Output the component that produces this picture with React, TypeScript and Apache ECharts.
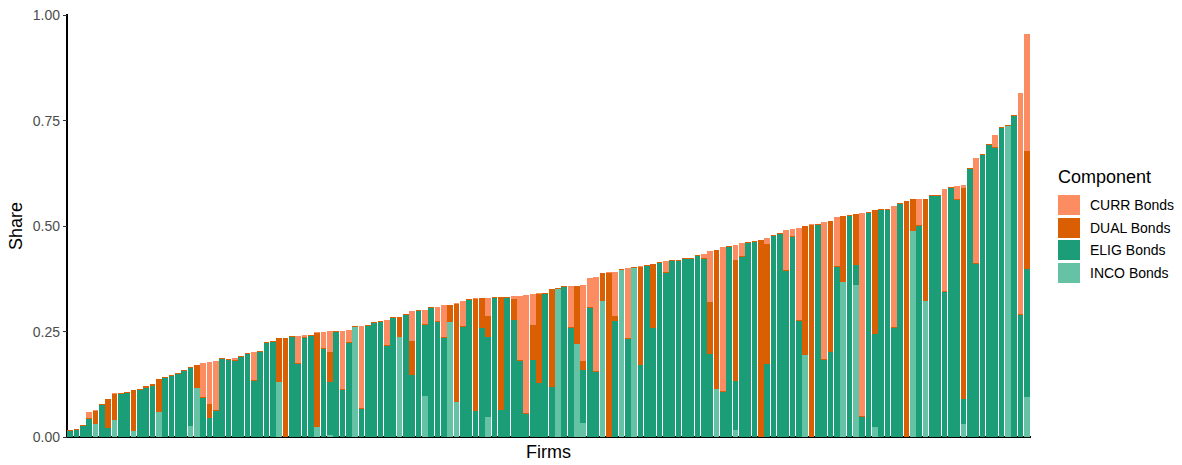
import React, { useEffect, useRef } from 'react';
import * as echarts from 'echarts';

// Share of each bond component per firm (firms sorted by total share)
const incoBonds = [
  0, 0, 0, 0, 0.031, 0, 0, 0.040, 0, 0,
  0.014, 0, 0, 0, 0.059, 0, 0, 0, 0, 0.026,
  0.116, 0, 0, 0, 0, 0, 0, 0, 0, 0,
  0, 0, 0, 0.130, 0, 0, 0, 0, 0, 0.024,
  0, 0.005, 0, 0, 0, 0.261, 0, 0, 0, 0,
  0, 0, 0.237, 0, 0, 0, 0.096, 0, 0, 0,
  0.273, 0.083, 0, 0, 0, 0, 0.047, 0, 0, 0,
  0, 0, 0, 0, 0, 0, 0, 0.351, 0, 0,
  0.220, 0.033, 0, 0, 0.322, 0, 0, 0.396, 0, 0.400,
  0, 0, 0, 0, 0, 0, 0, 0, 0, 0,
  0, 0, 0.114, 0, 0, 0.017, 0, 0, 0, 0,
  0, 0, 0, 0, 0, 0, 0.194, 0, 0, 0,
  0, 0, 0.367, 0, 0.360, 0, 0, 0.024, 0, 0,
  0, 0, 0, 0.488, 0, 0.322, 0, 0, 0, 0,
  0, 0.031, 0, 0, 0, 0, 0, 0, 0.737, 0,
  0, 0.095,
];

const eligBonds = [
  0.014, 0.017, 0.026, 0.043, 0, 0.075, 0.022, 0, 0.102, 0.104,
  0, 0.111, 0.117, 0.122, 0, 0.140, 0.145, 0.149, 0.156, 0.138,
  0, 0.093, 0.046, 0.062, 0.185, 0.183, 0.180, 0.190, 0.197, 0.132,
  0.202, 0.222, 0.226, 0, 0, 0.236, 0.174, 0.235, 0.239, 0,
  0.208, 0.126, 0.249, 0.112, 0.223, 0, 0.066, 0.263, 0.269, 0.273,
  0.216, 0.282, 0, 0.289, 0.147, 0.299, 0.169, 0.306, 0.273, 0.235,
  0, 0, 0.261, 0.325, 0.062, 0.258, 0.190, 0.329, 0.064, 0.329,
  0.277, 0.180, 0.055, 0.182, 0.128, 0.339, 0.118, 0, 0.355, 0.258,
  0, 0.126, 0.306, 0.154, 0, 0, 0.275, 0, 0.232, 0,
  0.171, 0.405, 0.258, 0.412, 0.389, 0.417, 0.417, 0.422, 0.422, 0.429,
  0.422, 0.197, 0, 0.107, 0.450, 0.115, 0.427, 0.460, 0.462, 0,
  0.174, 0.476, 0.481, 0.393, 0.474, 0.275, 0, 0, 0.502, 0.182,
  0.202, 0.403, 0, 0.524, 0.047, 0.047, 0.531, 0.221, 0.538, 0.538,
  0.258, 0.552, 0, 0, 0.500, 0, 0.571, 0.571, 0.344, 0.590,
  0.562, 0.059, 0.635, 0.410, 0.668, 0.692, 0.685, 0.732, 0, 0.761,
  0.289, 0.303,
];

const dualBonds = [
  0.003, 0.0025, 0.0025, 0.0025, 0.031, 0.003, 0.068, 0.062, 0.0025, 0.0025,
  0.097, 0.003, 0.003, 0.003, 0.078, 0.0025, 0.0025, 0.003, 0.0025, 0.0025,
  0.054, 0.0025, 0.032, 0.0025, 0.0025, 0.003, 0.0025, 0.0025, 0.003, 0.0025,
  0.0025, 0.0025, 0.0025, 0.104, 0.235, 0.003, 0.0025, 0.0025, 0.0025, 0.222,
  0.003, 0.070, 0.0025, 0.0025, 0.0025, 0.0025, 0.0025, 0.0025, 0.0025, 0.0025,
  0.0025, 0.0025, 0.047, 0.0025, 0.081, 0.0025, 0.0025, 0.0025, 0.0025, 0.0025,
  0.040, 0.232, 0.0025, 0.0025, 0.265, 0.071, 0.050, 0.0025, 0.268, 0.0025,
  0.051, 0.0025, 0.0025, 0.083, 0.211, 0.0025, 0.232, 0.0025, 0.0025, 0.0025,
  0.137, 0.021, 0.0025, 0.0025, 0.066, 0.389, 0.012, 0.0025, 0.0025, 0.0025,
  0.232, 0.0025, 0.152, 0.0025, 0.0025, 0.0025, 0.0025, 0.0025, 0.0025, 0.0025,
  0.0025, 0.122, 0.329, 0.0025, 0.0025, 0.288, 0.0025, 0.0025, 0.0025, 0.467,
  0.284, 0.0025, 0.0025, 0.0025, 0.0025, 0.0025, 0.306, 0.502, 0.0025, 0.0025,
  0.310, 0.0025, 0.156, 0.0025, 0.121, 0.0025, 0.0025, 0.293, 0.0025, 0.0025,
  0.0025, 0.0025, 0.559, 0.076, 0.0025, 0.242, 0.0025, 0.0025, 0.0025, 0.0025,
  0.0025, 0.500, 0.0025, 0.0025, 0.0025, 0.0025, 0.0025, 0.0025, 0.0025, 0.0025,
  0.0025, 0.280,
];

const currBonds = [
  0, 0, 0, 0.014, 0.0025, 0, 0, 0.0025, 0, 0,
  0, 0, 0, 0, 0, 0, 0, 0, 0, 0,
  0, 0.080, 0.100, 0.116, 0, 0, 0.005, 0, 0, 0.067,
  0, 0, 0, 0, 0, 0, 0.064, 0.005, 0, 0.003,
  0.038, 0.050, 0, 0.137, 0.028, 0, 0.194, 0, 0, 0,
  0.059, 0, 0, 0, 0.071, 0, 0.034, 0, 0.033, 0.076,
  0, 0.0025, 0.059, 0, 0.0025, 0, 0.043, 0, 0, 0,
  0.005, 0.152, 0.280, 0.074, 0.0025, 0, 0, 0, 0, 0.097,
  0, 0.180, 0.069, 0.223, 0, 0.0025, 0.104, 0, 0.166, 0,
  0.0025, 0, 0, 0, 0.026, 0, 0, 0, 0, 0,
  0.009, 0.121, 0, 0.341, 0, 0.036, 0.031, 0, 0, 0,
  0.014, 0, 0, 0.095, 0.017, 0.218, 0, 0.0025, 0, 0.325,
  0, 0.116, 0, 0, 0, 0.481, 0, 0, 0, 0,
  0.287, 0, 0, 0, 0.062, 0, 0, 0, 0.242, 0,
  0.031, 0.007, 0, 0.249, 0, 0, 0.028, 0, 0, 0,
  0.524, 0.277,
];

const firms = incoBonds.map((_, i) => `Firm ${i + 1}`);
const componentNames = ['CURR Bonds', 'DUAL Bonds', 'ELIG Bonds', 'INCO Bonds'];
const componentColors = ['#FC8D62', '#D95F02', '#1B9E77', '#66C2A5'];
const yTickValues = [0, 0.25, 0.5, 0.75, 1.0];

const FONT = '"Liberation Sans", Arial, Helvetica, sans-serif';

export default function App() {
  const ref = useRef<HTMLDivElement | null>(null);

  useEffect(() => {
    if (!ref.current) return;
    const chart = echarts.init(ref.current, null, { renderer: 'svg' });
    const seriesData = [
      { name: 'INCO Bonds', data: incoBonds, color: componentColors[3] },
      { name: 'ELIG Bonds', data: eligBonds, color: componentColors[2] },
      { name: 'DUAL Bonds', data: dualBonds, color: componentColors[1] },
      { name: 'CURR Bonds', data: currBonds, color: componentColors[0] },
    ];
    chart.setOption({
      animation: false,
      backgroundColor: '#ffffff',
      grid: { left: 67, right: 152, top: 15, bottom: 28, containLabel: false },
      xAxis: {
        type: 'category',
        data: firms,
        axisLine: { show: true, onZero: false, lineStyle: { color: '#000000', width: 1.6 } },
        axisTick: { show: false },
        axisLabel: { show: false },
        splitLine: { show: false },
      },
      yAxis: {
        type: 'value',
        min: yTickValues[0],
        max: yTickValues[yTickValues.length - 1],
        interval: 0.25,
        axisLine: { show: true, lineStyle: { color: '#000000', width: 1.6 } },
        axisTick: { show: true, length: 4, lineStyle: { color: '#333333', width: 1.2 } },
        axisLabel: {
          formatter: (v: number) => v.toFixed(2),
          color: '#4d4d4d',
          fontSize: 14,
          margin: 7,
          fontFamily: FONT,
        },
        splitLine: { show: false },
      },
      legend: {
        orient: 'vertical',
        left: 1058,
        top: 195,
        padding: 0,
        itemWidth: 22,
        itemHeight: 20,
        itemGap: 2.6,
        icon: 'rect',
        selectedMode: false,
        data: componentNames,
        textStyle: { fontSize: 14, color: '#000000', fontFamily: FONT, padding: [0, 0, 0, 5] },
      },
      series: seriesData.map((s) => ({
        type: 'bar',
        name: s.name,
        stack: 'total',
        data: s.data,
        barCategoryGap: '10%',
        itemStyle: { color: s.color },
        emphasis: { disabled: true },
      })),
      graphic: [
        {
          type: 'text',
          x: 1058,
          y: 177,
          style: { text: 'Component', fontSize: 18, fontFamily: FONT, fill: '#000000', align: 'left', verticalAlign: 'middle' },
        },
        {
          type: 'text',
          x: 548.5,
          y: 452,
          style: { text: 'Firms', fontSize: 18, fontFamily: FONT, fill: '#000000', align: 'center', verticalAlign: 'middle' },
        },
        {
          type: 'text',
          x: 16,
          y: 226,
          rotation: Math.PI / 2,
          style: { text: 'Share', fontSize: 18, fontFamily: FONT, fill: '#000000', align: 'center', verticalAlign: 'middle' },
        },
      ],
    });
    const svg = ref.current.querySelector('svg');
    if (svg) svg.setAttribute('shape-rendering', 'crispEdges');
    return () => chart.dispose();
  }, []);

  return (
    <div
      ref={ref}
      style={{ position: 'absolute', left: 0, top: 0, width: 1182, height: 465, background: '#ffffff' }}
    />
  );
}
